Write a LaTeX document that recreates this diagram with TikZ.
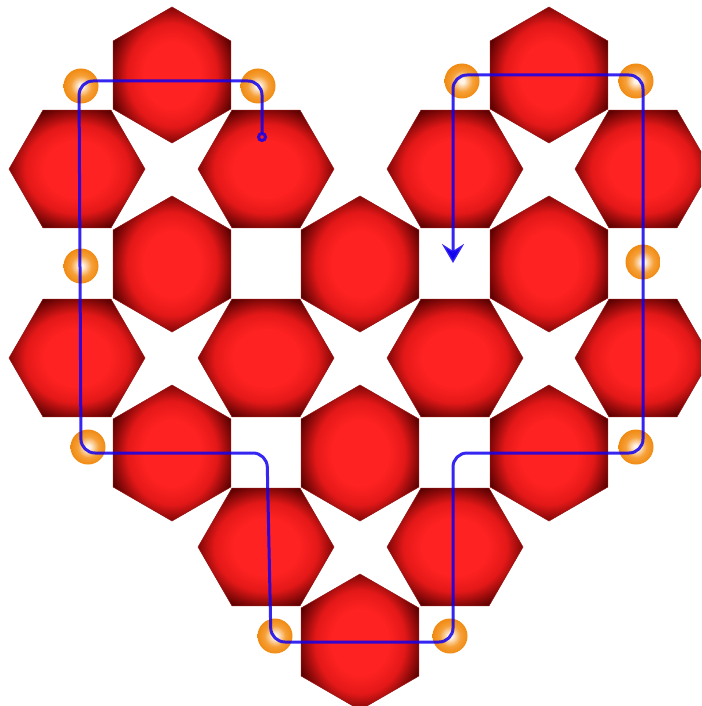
\documentclass[tikz,border=0pt]{standalone}
\usepackage{xcolor}
\usepackage{tikz}
\usetikzlibrary{shapes.geometric, arrows.meta}
\definecolor{hexcore}{RGB}{255,34,34}
\definecolor{hexmid}{RGB}{228,24,24}
\definecolor{hexdark}{RGB}{145,10,10}
\definecolor{hexdeep}{RGB}{80,0,0}
\definecolor{hexrim}{RGB}{150,20,20}
\definecolor{beadhi}{RGB}{255,244,232}
\definecolor{beadmid}{RGB}{246,160,56}
\definecolor{beadrim}{RGB}{240,138,18}
\definecolor{routeblue}{RGB}{18,0,238}
\pgfdeclareradialshading{hexglow}{\pgfpointorigin}{color(0bp)=(hexcore); color(12bp)=(hexcore); color(19bp)=(hexmid); color(24bp)=(hexdark); color(28bp)=(hexdeep); color(50bp)=(hexdeep)}
\pgfdeclareradialshading{beadglow}{\pgfpointorigin}{color(0bp)=(beadhi); color(3bp)=(beadhi); color(15bp)=(beadmid); color(25bp)=(beadrim); color(50bp)=(beadrim)}
\tikzset{
  hexflat/.style={regular polygon, regular polygon sides=6, minimum size=136pt, inner sep=0pt, shading=hexglow, draw=hexrim, line width=0.5pt},
  hexup/.style={hexflat, shape border rotate=30},
  bead/.style={circle, minimum size=35pt, inner sep=0pt, shading=beadglow},
  route/.style={draw=routeblue, draw opacity=0.85, line width=3pt, rounded corners=14pt, {Circle[open, length=10pt]}-{Stealth[length=19pt, width=22pt, inset=7pt]}}
}

\begin{document}
\begin{tikzpicture}[x=1pt, y=-1pt]
  \useasboundingbox (0,0) rectangle (701,706);
  \clip (0,0) rectangle (701,706);
  % pointed rows
  \node[hexup] (r1a) at (172,75) {};
  \node[hexup] (r1b) at (549,75) {};
  \node[hexup] (r3a) at (172,264) {};
  \node[hexup] (r3b) at (360,264) {};
  \node[hexup] (r3c) at (549,264) {};
  \node[hexup] (r5a) at (172,453) {};
  \node[hexup] (r5b) at (360,453) {};
  \node[hexup] (r5c) at (549,453) {};
  \node[hexup] (r7a) at (360,642) {};
  % flat rows
  \node[hexflat] (r2a) at (77,169) {};
  \node[hexflat] (r2b) at (266,169) {};
  \node[hexflat] (r2c) at (455,169) {};
  \node[hexflat] (r2d) at (643,169) {};
  \node[hexflat] (r4a) at (77,358) {};
  \node[hexflat] (r4b) at (266,358) {};
  \node[hexflat] (r4c) at (455,358) {};
  \node[hexflat] (r4d) at (643,358) {};
  \node[hexflat] (r6a) at (266,547) {};
  \node[hexflat] (r6b) at (455,547) {};
  % orange beads
  \node[bead] (b1) at (81,86) {};
  \node[bead] (b2) at (258,86) {};
  \node[bead] (b3) at (462,81) {};
  \node[bead] (b4) at (636,81) {};
  \node[bead] (b5) at (81,266) {};
  \node[bead] (b6) at (643,262) {};
  \node[bead] (b7) at (88,447) {};
  \node[bead] (b8) at (636,447) {};
  \node[bead] (b9) at (275,636) {};
  \node[bead] (b10) at (450,636) {};
  % route corners
  \coordinate (c0) at (262,142);
  \coordinate (c1) at (262,81);
  \coordinate (c2) at (79,81);
  \coordinate (c3) at (81,453);
  \coordinate (c4) at (267,453);
  \coordinate (c5) at (271,642);
  \coordinate (c6) at (453,642);
  \coordinate (c7) at (453,453);
  \coordinate (c8) at (643,453);
  \coordinate (c9) at (643,75);
  \coordinate (c10) at (453,75);
  \coordinate (c11) at (453,263);
  \draw[route] (c0) -- (c1) -- (c2) -- (c3) -- (c4) -- (c5) -- (c6) -- (c7) -- (c8) -- (c9) -- (c10) -- (c11);
\end{tikzpicture}
\end{document}
